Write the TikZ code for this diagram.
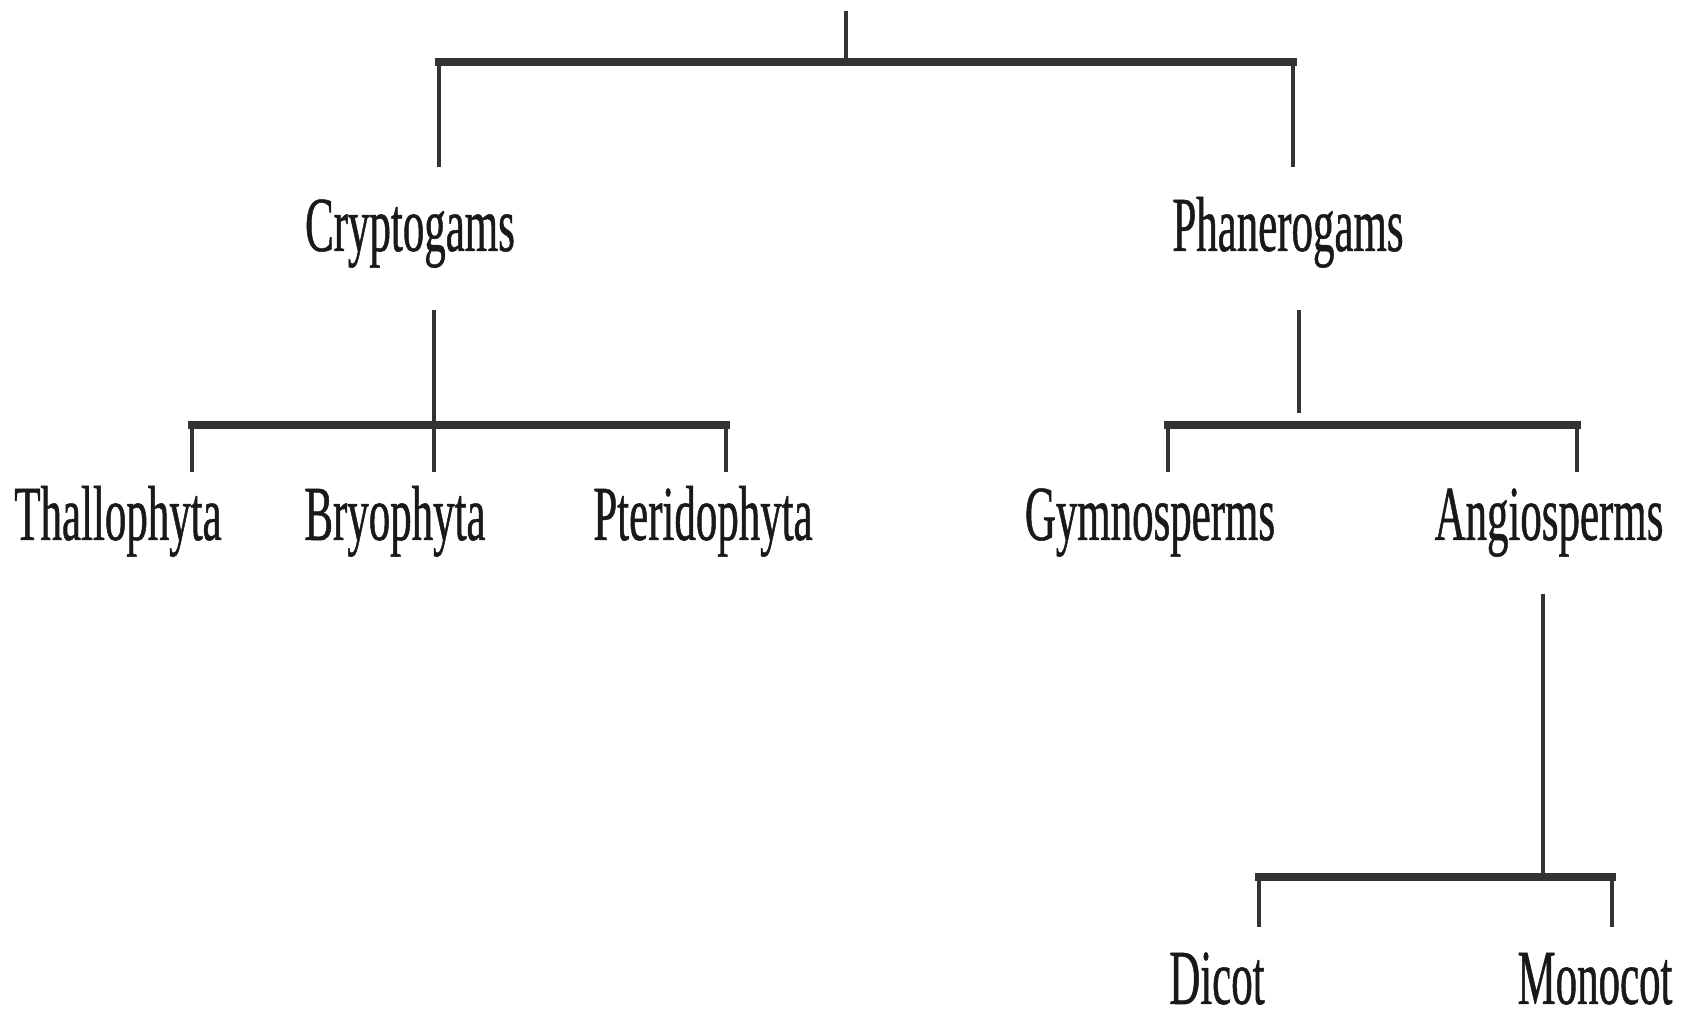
\documentclass[tikz,border=0pt]{standalone}
\usepackage{fontspec}
\setmainfont[FakeStretch=0.55,FakeBold=0.6]{Liberation Serif}
\begin{document}
\begin{tikzpicture}[x=0.5pt,y=-0.5pt,
  lab/.style={font=\fontsize{39}{39}\selectfont, text=black!90, inner sep=0pt, anchor=base},
  stem/.style={draw=black!80, line width=1.6pt},
  bar/.style={draw=black!80, line width=4pt, line cap=rect},
  drop/.style={draw=black!80, line width=2.3pt}]
\useasboundingbox (0,0) rectangle (1694,1020);
% labels
\node[lab] (cryp)  at (410,251)  {Cryptogams};
\node[lab] (phan)  at (1288,251) {Phanerogams};
\node[lab] (thal)  at (118,540)  {Thallophyta};
\node[lab] (bryo)  at (395,540)  {Bryophyta};
\node[lab] (pter)  at (703,540)  {Pteridophyta};
\node[lab] (gymn)  at (1150,540) {Gymnosperms};
\node[lab] (angi)  at (1549,540) {Angiosperms};
\node[lab] (dico)  at (1217,1004) {Dicot};
\node[lab] (mono)  at (1595,1004) {Monocot};
% junction coordinates
\coordinate (root)  at (846,11);
\coordinate (rootJ) at (846,62);
\coordinate (rL)    at (439,62);
\coordinate (rR)    at (1293,62);
\coordinate (rLe)   at (439,167);
\coordinate (rRe)   at (1293,167);
% Cryptogams subtree
\coordinate (cS)  at (434,310);
\coordinate (cJ)  at (434,425);
\coordinate (cL)  at (192,425);
\coordinate (cR)  at (726,425);
\coordinate (cLe) at (192,472);
\coordinate (cMe) at (434,472);
\coordinate (cRe) at (726,472);
% Phanerogams subtree
\coordinate (pS)  at (1299,310);
\coordinate (pJ)  at (1299,413);
\coordinate (pL)  at (1168,425);
\coordinate (pR)  at (1577,425);
\coordinate (pLe) at (1168,472);
\coordinate (pRe) at (1577,472);
% Angiosperms subtree
\coordinate (aS)  at (1543,594);
\coordinate (aJ)  at (1543,877);
\coordinate (aL)  at (1259,877);
\coordinate (aR)  at (1612,877);
\coordinate (aLe) at (1259,927);
\coordinate (aRe) at (1612,927);
% connectors
\draw[stem] (root) -- (rootJ);
\draw[bar] (rL) -- (rR);
\draw[drop] (rL) -- (rLe);
\draw[drop] (rR) -- (rRe);

\draw[stem] (cS) -- (cJ);
\draw[bar] (cL) -- (cR);
\draw[drop] (cL) -- (cLe);
\draw[drop] (cJ) -- (cMe);
\draw[drop] (cR) -- (cRe);

\draw[stem] (pS) -- (pJ);
\draw[bar] (pL) -- (pR);
\draw[drop] (pL) -- (pLe);
\draw[drop] (pR) -- (pRe);

\draw[stem] (aS) -- (aJ);
\draw[bar] (aL) -- (aR);
\draw[drop] (aL) -- (aLe);
\draw[drop] (aR) -- (aRe);
\end{tikzpicture}
\end{document}
